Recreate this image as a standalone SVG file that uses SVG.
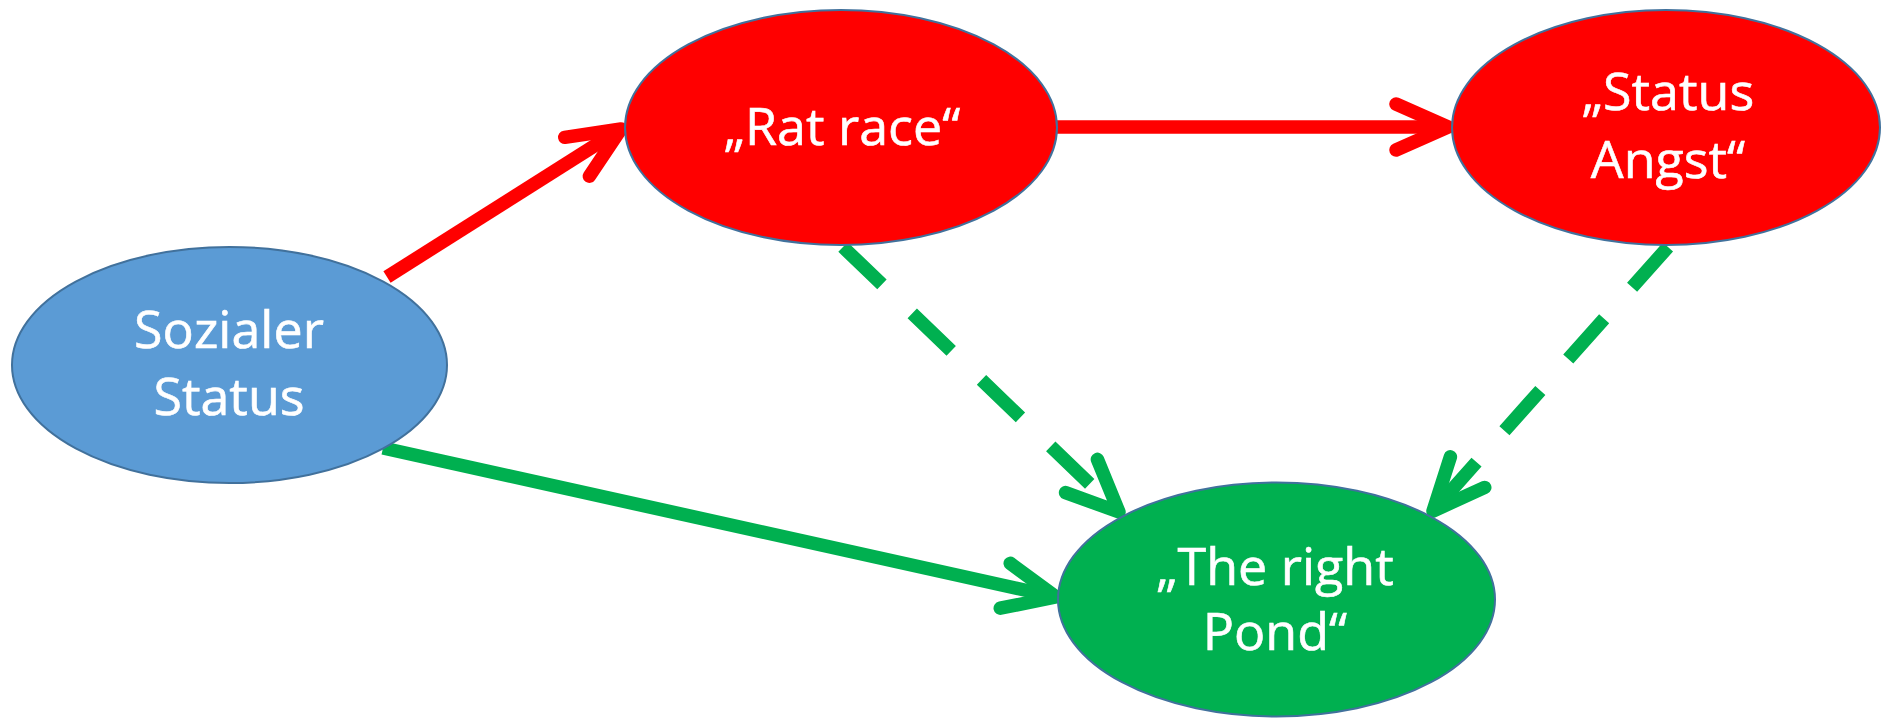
<svg xmlns="http://www.w3.org/2000/svg" width="1882" height="718" viewBox="0 0 1882 718">
<style>
.node ellipse{stroke:#41719c;stroke-width:2}
.lbl{font-family:"Open Sans","Liberation Sans",sans-serif;font-size:52px;fill:#ffffff;stroke:#ffffff;stroke-width:0.6;text-anchor:middle}
.edge{fill:none;stroke-width:13.5;stroke-linecap:butt}
.red{stroke:#ff0000}
.green{stroke:#00b050}
.dash{stroke-dasharray:54 42}
</style>
<defs>
<marker id="arrRed" markerUnits="userSpaceOnUse" orient="auto" refX="0" refY="0" markerWidth="10" markerHeight="10" overflow="visible">
<path d="M-52,-23 L0,0 L-52,23" fill="none" stroke="#ff0000" stroke-width="13.5" stroke-linecap="round" stroke-linejoin="round" stroke-dasharray="none"/>
</marker>
<marker id="arrGreen" markerUnits="userSpaceOnUse" orient="auto" refX="0" refY="0" markerWidth="10" markerHeight="10" overflow="visible">
<path d="M-52,-23 L0,0 L-52,23" fill="none" stroke="#00b050" stroke-width="13.5" stroke-linecap="round" stroke-linejoin="round" stroke-dasharray="none"/>
</marker>
</defs>
<rect width="1882" height="718" fill="#ffffff"/>
<g id="connectors">
<path class="edge red" d="M387,277 L621,129" marker-end="url(#arrRed)"/>
<path class="edge red" d="M1057,127 L1448,127" marker-end="url(#arrRed)"/>
<path class="edge green" d="M383,448 L1056,597" marker-end="url(#arrGreen)"/>
<path class="edge green dash" d="M843,247 L1119,512" marker-end="url(#arrGreen)"/>
<path class="edge green dash" d="M1668,247 L1433,511" marker-end="url(#arrGreen)"/>
</g>
<g id="sozialer-status" class="node">
<ellipse cx="229.5" cy="365" rx="217.5" ry="118" fill="#5b9bd5"/>
<text class="lbl" x="229" y="348">Sozialer</text>
<text class="lbl" x="229" y="415">Status</text>
</g>
<g id="rat-race" class="node">
<ellipse cx="841" cy="127.5" rx="216" ry="117.5" fill="#ff0000"/>
<text class="lbl" x="842" y="145">„Rat race“</text>
</g>
<g id="status-angst" class="node">
<ellipse cx="1666" cy="127.5" rx="214" ry="117.5" fill="#ff0000"/>
<text class="lbl" x="1668" y="110">„Status</text>
<text class="lbl" x="1668" y="178">Angst“</text>
</g>
<g id="right-pond" class="node">
<ellipse cx="1276.5" cy="599.5" rx="218.5" ry="117" fill="#00b050"/>
<text class="lbl" x="1275" y="585">„The right</text>
<text class="lbl" x="1275" y="650">Pond“</text>
</g>
</svg>
